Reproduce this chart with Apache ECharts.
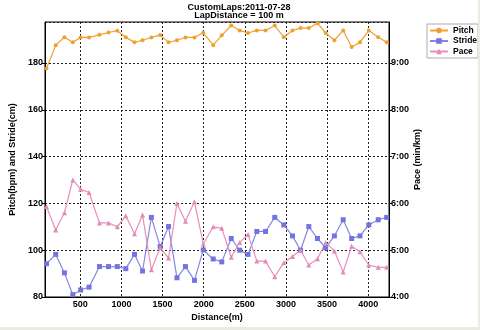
<!DOCTYPE html>
<html>
<head>
<meta charset="utf-8">
<script src="https://cdn.jsdelivr.net/npm/echarts@6/dist/echarts.min.js"></script>
<style>
html,body{margin:0;padding:0;background:#ecebe2;}
#c{width:478px;height:327px;background:#ffffff;}
</style>
</head>
<body>
<div id="c"></div>
<script>
var distances = [89,201,307,409,504,607,733,843,950,1053,1159,1257,1364,1471,1573,1675,1778,1888,1995,2116,2220,2335,2438,2539,2646,2752,2864,2974,3080,3178,3278,3384,3483,3589,3696,3799,3900,4007,4122,4225];
var pitch = [177.6,187.6,191.0,188.8,190.9,190.9,192.0,193.0,193.8,191.0,188.8,189.7,190.9,191.9,188.8,189.7,190.9,190.9,192.9,187.6,191.8,196.0,193.9,192.8,193.9,193.9,196.0,191.0,193.9,194.9,194.9,197.0,192.8,189.7,193.9,186.8,188.8,193.9,191.0,188.8];
var stride = [94.2,98.2,90.3,81.0,83.0,84.2,93.0,93.0,93.0,92.1,98.2,91.1,114.0,101.5,110.1,88.2,93.0,87.1,100.1,96.25,95.0,105.0,100.0,98.2,108.0,108.0,114.0,110.8,106.1,100.0,110.1,105.0,101.0,106.1,113.0,105.0,106.1,110.8,113.0,114.0];
// pace in seconds per km
var pace = [356,326,348,390,378,374,335,335,330,344,321,345,275,303,290,360,337,362,308,330,328,291,310,320,286,286,266,284,292,300,281,289,310,299,272,305,298,281,278,278];
var distanceTicks = [500,1000,1500,2000,2500,3000,3500,4000];
var titleLines = ['CustomLaps:2011-07-28','LapDistance = 100 m'];

function pairs(xs, ys){ return xs.map(function(x,i){ return [x, ys[i]]; }); }
function fmtPace(v){ var m = Math.floor(v/60), s = Math.round(v%60); return m + ':' + (s<10?'0':'') + s; }

var font = 'Liberation Sans';
var lab = {fontFamily: font, fontWeight: 'bold', fontSize: 9, color: '#000'};
var chart = echarts.init(document.getElementById('c'), null, {renderer:'canvas'});
chart.setOption({
  animation: false,
  backgroundColor: '#ffffff',
  title: [
    {text: titleLines[0], left: 'center', top: 3.5, textStyle: Object.assign({}, lab, {lineHeight: 9}), padding: 0},
    {text: titleLines[1], left: 'center', top: 11.5, textStyle: Object.assign({}, lab, {lineHeight: 9}), padding: 0}
  ],
  legend: {
    orient: 'vertical', left: 427, top: 24,
    padding: [2, 1, 2, 2], itemGap: 1.5, itemWidth: 18, itemHeight: 7,
    borderColor: '#aaaaaa', borderWidth: 1, backgroundColor: '#fff',
    textStyle: Object.assign({}, lab, {fontSize: 8.5}),
    data: ['Pitch','Stride','Pace']
  },
  grid: {left: 37, right: 89, top: 22, bottom: 23, show: true, borderColor: '#000', borderWidth: 1},
  xAxis: {
    type: 'value', min: 71, max: 4253, splitNumber: 8,
    name: 'Distance(m)', nameLocation: 'middle', nameGap: 16, nameMoveOverlap: false,
    nameTextStyle: lab,
    axisLine: {lineStyle: {color: '#000'}},
    axisTick: {show: false, customValues: distanceTicks},
    axisLabel: Object.assign({}, lab, {margin: 3, customValues: distanceTicks, formatter: function(v){ return String(v); }}),
    splitLine: {show: true, lineStyle: {color: '#222', type: [2,2], width: 1}}
  },
  yAxis: [
    {
      type: 'value', min: 80, max: 197.5, interval: 20, position: 'left',
      name: 'Pitch(bpm) and Stride(cm)', nameLocation: 'middle', nameGap: 28, nameRotate: 90, nameMoveOverlap: false,
      nameTextStyle: lab,
      axisLine: {show: true, lineStyle: {color: '#000'}},
      axisTick: {show: true, length: 3, lineStyle: {color: '#000'}},
      axisLabel: Object.assign({}, lab, {margin: 2, showMaxLabel: false}),
      splitLine: {show: true, lineStyle: {color: '#222', type: [2,2], width: 1}}
    },
    {
      type: 'value', min: 240, max: 592.5, interval: 60, position: 'right',
      name: 'Pace (min/km)', nameLocation: 'middle', nameGap: 24, nameRotate: 90, nameMoveOverlap: false,
      nameTextStyle: lab,
      axisLine: {show: true, lineStyle: {color: '#000'}},
      axisTick: {show: true, length: 3, lineStyle: {color: '#000'}},
      axisLabel: Object.assign({}, lab, {margin: 2, showMaxLabel: false, formatter: fmtPace}),
      splitLine: {show: false}
    }
  ],
  series: [
    {name: 'Pitch', type: 'line', yAxisIndex: 0, data: pairs(distances, pitch),
     symbol: 'circle', symbolSize: 4, color: '#f0a030',
     lineStyle: {width: 1.2, color: '#f0a030'}, itemStyle: {color: '#f0a030'}},
    {name: 'Stride', type: 'line', yAxisIndex: 0, data: pairs(distances, stride),
     symbol: 'rect', symbolSize: 5, color: '#7474e0',
     lineStyle: {width: 1.2, color: '#8686e2'}, itemStyle: {color: '#7474e0'}},
    {name: 'Pace', type: 'line', yAxisIndex: 1, data: pairs(distances, pace),
     symbol: 'triangle', symbolSize: 5, color: '#e48ab6',
     lineStyle: {width: 1.2, color: '#e690bb'}, itemStyle: {color: '#e48ab6'}}
  ]
});
</script>
</body>
</html>
